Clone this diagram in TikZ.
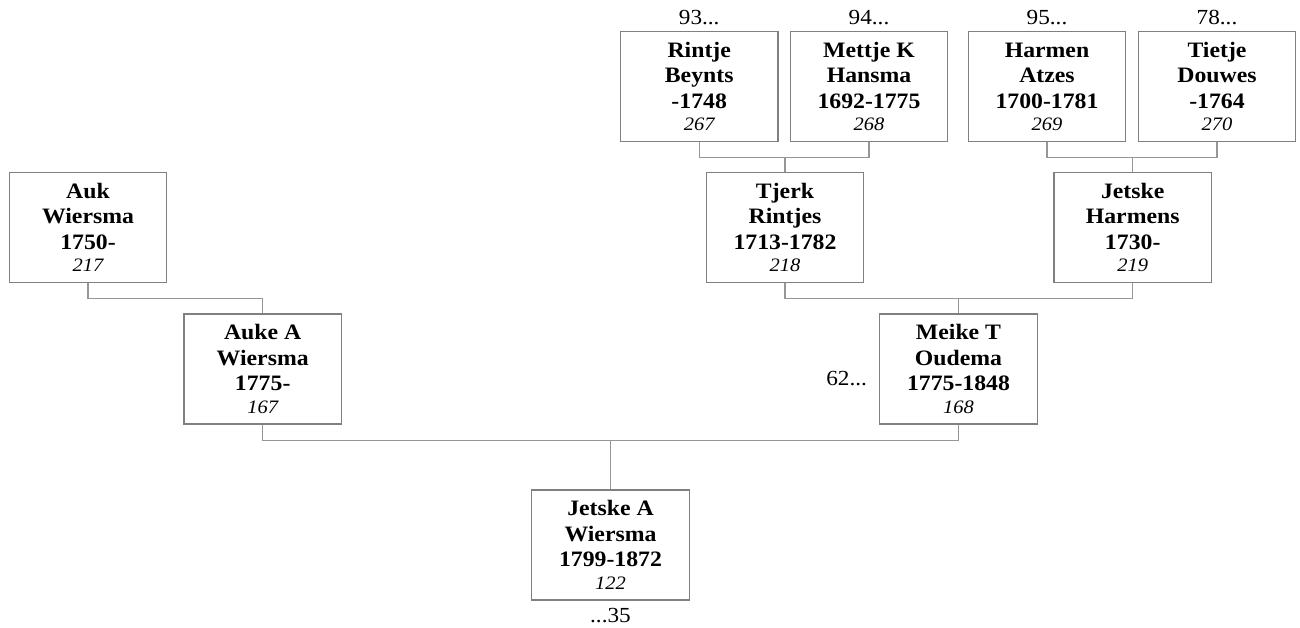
\documentclass[tikz,border=0pt]{standalone}
\usepackage{fontspec}
\setmainfont[FakeStretch=1.08]{Liberation Serif}
\usetikzlibrary{calc}
\definecolor{boxgray}{RGB}{128,128,128}
\definecolor{linegray}{RGB}{150,150,150}
\newcommand{\pers}[4]{#1\\#2\\#3\\[-3pt]{\mdseries\itshape\fontsize{19}{21}\selectfont #4}}
\begin{document}
\begin{tikzpicture}[x=1pt,y=-1pt,
  person/.style={draw=boxgray, line width=1.2pt, fill=white, minimum width=157.5pt, minimum height=110pt,
     inner sep=0pt, align=center, font=\fontsize{22}{25.5}\selectfont\bfseries},
  conn/.style={draw=linegray, line width=1.2pt},
  ref/.style={font=\fontsize{21.5}{24}\selectfont, inner sep=0pt}]
\useasboundingbox (0,0) rectangle (1300,628);
% row 1
\node[person] (rintje) at (699.2,86.7) {\pers{Rintje}{Beynts}{-1748}{267}};
\node[person] (mettje) at (869,86.7) {\pers{Mettje K}{Hansma}{1692-1775}{268}};
\node[person] (harmen) at (1047,86.7) {\pers{Harmen}{Atzes}{1700-1781}{269}};
\node[person] (tietje) at (1217,86.7) {\pers{Tietje}{Douwes}{-1764}{270}};
% row 2
\node[person] (auk) at (88,227.5) {\pers{Auk}{Wiersma}{1750-}{217}};
\node[person] (tjerk) at (785,227.5) {\pers{Tjerk}{Rintjes}{1713-1782}{218}};
\node[person] (jetskeh) at (1132.7,227.5) {\pers{Jetske}{Harmens}{1730-}{219}};
% row 3
\node[person] (auke) at (262.7,369) {\pers{Auke A}{Wiersma}{1775-}{167}};
\node[person] (meike) at (958.5,369) {\pers{Meike T}{Oudema}{1775-1848}{168}};
% row 4
\node[person] (jetskea) at (610.5,545) {\pers{Jetske A}{Wiersma}{1799-1872}{122}};
% reference labels
\node[ref, anchor=base] (r93) at ($(rintje.north)+(0,-7)$) {93...};
\node[ref, anchor=base] (r94) at ($(mettje.north)+(0,-7)$) {94...};
\node[ref, anchor=base] (r95) at ($(harmen.north)+(0,-7)$) {95...};
\node[ref, anchor=base] (r78) at ($(tietje.north)+(0,-7)$) {78...};
\node[ref, anchor=base east] (r62) at ($(meike.west)+(-12,16)$) {62...};
\node[ref, anchor=base] (r35) at ($(jetskea.south)+(0,22)$) {...35};
% connectors
\coordinate (j1) at ($(rintje.south)+(0,15.5)$);
\draw[conn] (rintje.south) -- (j1) -| (mettje.south);
\draw[conn] (tjerk.north) -- (tjerk.north |- j1);
\coordinate (j2) at ($(harmen.south)+(0,15.5)$);
\draw[conn] (harmen.south) -- (j2) -| (tietje.south);
\draw[conn] (jetskeh.north) -- (jetskeh.north |- j2);
\coordinate (j3) at ($(tjerk.south)+(0,15.5)$);
\draw[conn] (tjerk.south) -- (j3) -| (jetskeh.south);
\draw[conn] (meike.north) -- (meike.north |- j3);
\coordinate (j4) at ($(auk.south)+(0,15.5)$);
\draw[conn] (auk.south) -- (j4) -| (auke.north);
\coordinate (j5) at ($(auke.south)+(0,16)$);
\draw[conn] (auke.south) -- (j5) -| (meike.south);
\draw[conn] (jetskea.north) -- (jetskea.north |- j5);
\end{tikzpicture}
\end{document}
